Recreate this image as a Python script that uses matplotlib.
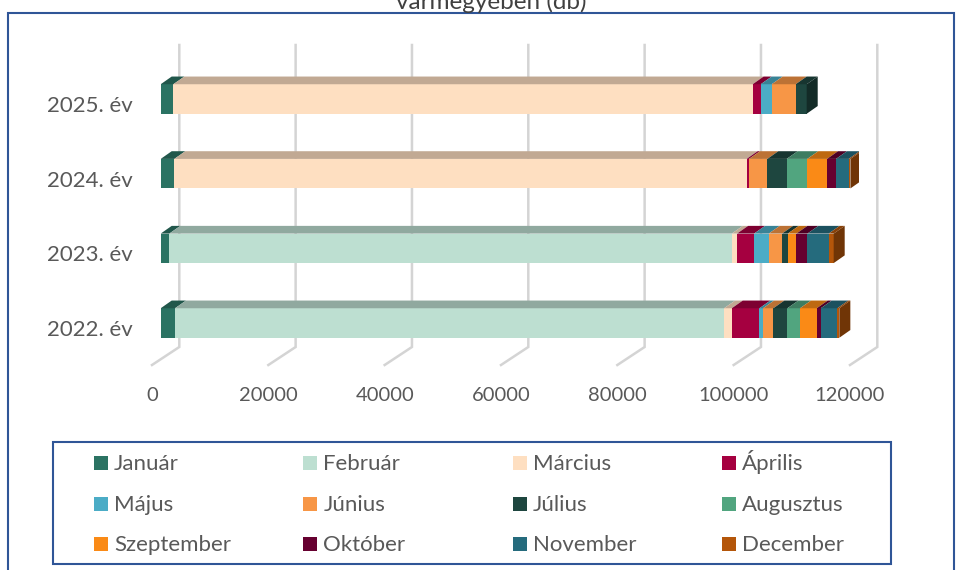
import matplotlib
matplotlib.use("Agg")
import matplotlib.pyplot as plt
from matplotlib.patches import Polygon, Rectangle
from matplotlib import transforms
import numpy as np

plt.rcParams['font.family'] = ['Lato', 'DejaVu Sans']

years = ["2022. év", "2023. év", "2024. év", "2025. év"]
months = ["Január", "Február", "Március", "Április", "Május", "Június",
          "Július", "Augusztus", "Szeptember", "Október", "November", "December"]
colors = ["#2b7363", "#bddfd1", "#fedfc1", "#a50040", "#4bacc6", "#f79646",
          "#1e463f", "#51a57f", "#fa8a16", "#660030", "#256b7d", "#b4560a"]

# values per month (rows) for years 2022, 2023, 2024, 2025
januar     = [2460, 1480, 2340, 2170]
februar    = [94400, 96700, 0, 0]
marcius    = [1320, 910, 98400, 99600]
aprilis    = [4740, 2920, 400, 1380]
majus      = [640, 2530, 0, 1890]
junius     = [1770, 2290, 3150, 4130]
julius     = [2410, 980, 3330, 1890]
augusztus  = [2180, 0, 3540, 0]
szeptember = [2870, 1480, 3390, 0]
oktober    = [690, 1890, 1550, 0]
november   = [2850, 3660, 2180, 0]
december   = [340, 860, 300, 0]
series = [januar, februar, marcius, aprilis, majus, junius, julius,
          augusztus, szeptember, oktober, november, december]
xticks = [0, 20000, 40000, 60000, 80000, 100000, 120000]

W, H, DPI = 958, 570, 100
fig = plt.figure(figsize=(W / DPI, H / DPI), dpi=DPI)

def fx(px):
    return px / W

def fy(py):
    return 1 - py / H

# axes geometry (pixels)
ax_l, ax_r, ax_t, ax_b = 160.7, 858.7, 45, 365
ax = fig.add_axes([fx(ax_l), fy(ax_b), (ax_r - ax_l) / W, (ax_b - ax_t) / H])
ylo, yhi = -0.5625, 3.723
ax.set_xlim(xticks[0], xticks[-1])
ax.set_ylim(ylo, yhi)
for s in ax.spines.values():
    s.set_visible(False)
ax.patch.set_alpha(0)

ux = (xticks[-1] - xticks[0]) / (ax_r - ax_l)      # data units per pixel (x)
uy = (yhi - ylo) / (ax_b - ax_t)                    # data units per pixel (y)
ua = 1.0 / (ax_b - ax_t)                            # axes fraction per pixel

def darker(c, f):
    r, g, b = matplotlib.colors.to_rgb(c)
    return (r * f, g * f, b * f)

# gridlines (back wall + floor diagonal)
blend = transforms.blended_transform_factory(ax.transData, ax.transAxes)
back_dx, front_dx = 18.6, -8.7
for v in xticks:
    ax.plot([v + back_dx * ux, v + back_dx * ux, v + front_dx * ux],
            [1.0, 18 * ua, 0.0], transform=blend, color="#d4d4d4",
            lw=1.8, zorder=0, clip_on=False, solid_joinstyle='miter')

# bars
bh = 0.395
ddx, ddy = 11 * ux, 7.7 * uy
ypos = np.arange(len(years))
left = np.zeros(len(years))
for vals, col in zip(series, colors):
    vals = np.array(vals, dtype=float)
    ax.barh(ypos, vals, left=left, height=bh, color=col, edgecolor='none', zorder=2)
    for yi, (x0, w) in enumerate(zip(left, vals)):
        if w <= 0:
            continue
        yt = ypos[yi] + bh / 2
        ax.add_patch(Polygon([(x0, yt), (x0 + w, yt), (x0 + w + ddx, yt + ddy),
                              (x0 + ddx, yt + ddy)], closed=True,
                             facecolor=darker(col, 0.76), edgecolor='none', zorder=3))
    left = left + vals

# end caps
for yi in range(len(years)):
    last = max(i for i, s in enumerate(series) if s[yi] > 0)
    x1 = left[yi]
    yb, yt = ypos[yi] - bh / 2, ypos[yi] + bh / 2
    ax.add_patch(Polygon([(x1, yb), (x1, yt), (x1 + ddx, yt + ddy), (x1 + ddx, yb + ddy)],
                         closed=True, facecolor=darker(colors[last], 0.62),
                         edgecolor='none', zorder=3))

txt_col = "#595959"
fs_tick = 14.5
fs = 16
ax.set_xticks(xticks)
ax.set_xticklabels([str(v) for v in xticks])
ax.set_yticks(ypos)
ax.set_yticklabels(years)
ax.tick_params(axis='x', length=0, pad=16, labelsize=fs_tick, labelcolor=txt_col)
ax.tick_params(axis='y', length=0, pad=20, labelsize=fs, labelcolor=txt_col)
for lab in ax.get_xticklabels():
    lab.set_transform(lab.get_transform() +
                      transforms.ScaledTranslation(front_dx / DPI, 0, fig.dpi_scale_trans))
for lab in ax.get_yticklabels():
    lab.set_transform(lab.get_transform() +
                      transforms.ScaledTranslation(0, -5 / DPI, fig.dpi_scale_trans))

# outer chart border
fig.patches.append(Rectangle((fx(8), -0.05), (954 - 8) / W, fy(12.7) + 0.05,
                             transform=fig.transFigure, fill=False,
                             edgecolor="#2f5597", lw=1.5))
# title (partially cut, as in the reference)
fig.text(fx(491), fy(9), "vármegyében (db)", ha='center', va='baseline',
         fontsize=17.5, color="#404040")

# legend
fig.patches.append(Rectangle((fx(53), fy(564)), (890.7 - 53) / W, (564 - 442.3) / H,
                             transform=fig.transFigure, fill=False,
                             edgecolor="#2f5597", lw=1.5))
col_x0, col_step = 94, 209.3
row_y0, row_step = 463.3, 40.4
sq = 14
for i, (name, col) in enumerate(zip(months, colors)):
    c, r = i % 4, i // 4
    x = col_x0 + c * col_step
    y = row_y0 + r * row_step
    fig.patches.append(Rectangle((fx(x), fy(y + sq / 2)), sq / W, sq / H,
                                 transform=fig.transFigure, facecolor=col,
                                 edgecolor='none'))
    fig.text(fx(x + 20), fy(y + 7), name, ha='left', va='baseline',
             fontsize=fs, color=txt_col)

fig.savefig("out.png", dpi=DPI)
